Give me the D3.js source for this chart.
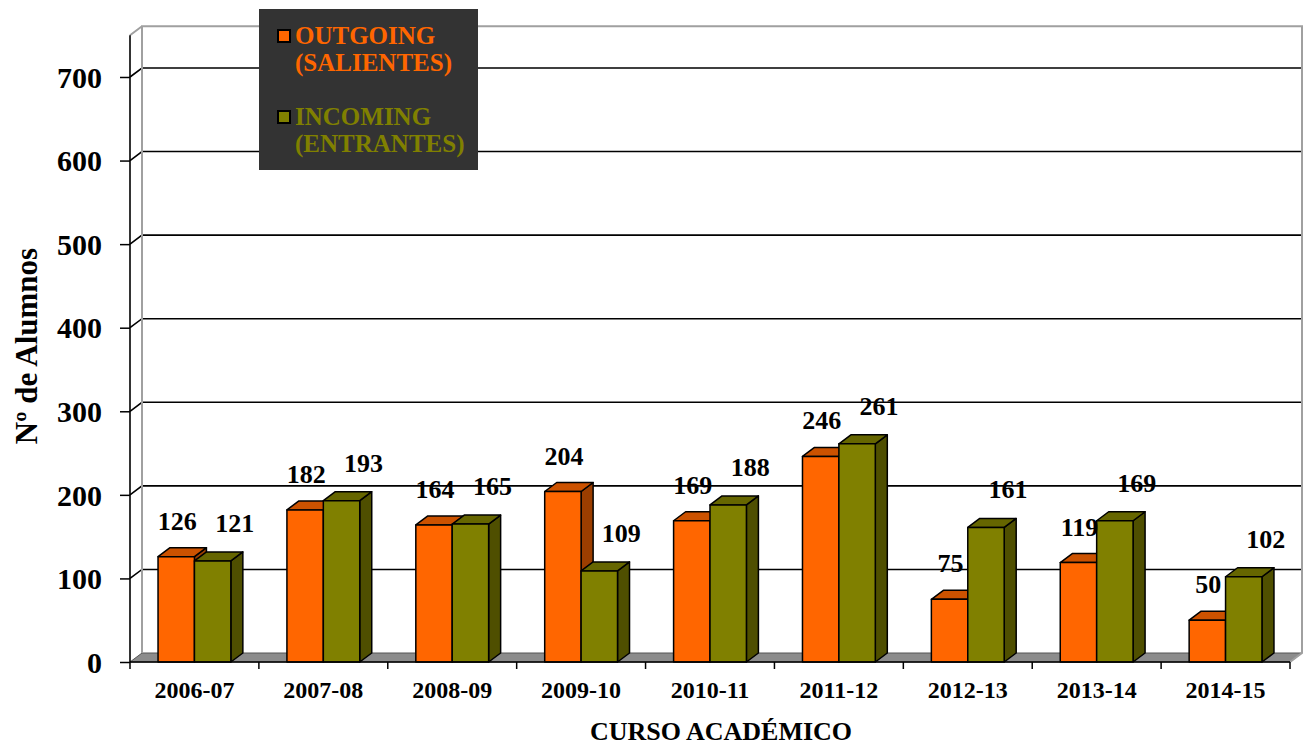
<!DOCTYPE html>
<html>
<head>
<meta charset="utf-8">
<script src="https://cdn.jsdelivr.net/npm/d3@7"></script>
<style>
  html, body { margin: 0; padding: 0; background: #fff; }
  svg { display: block; font-family: 'Liberation Serif', 'Times New Roman', serif; font-weight: bold; }
</style>
</head>
<body>
<svg id="chart" width="1306" height="746"></svg>
<script>
const categories = ['2006-07', '2007-08', '2008-09', '2009-10', '2010-11', '2011-12', '2012-13', '2013-14', '2014-15']
const outgoing = [126, 182, 164, 204, 169, 246, 75, 119, 50]
const incoming = [121, 193, 165, 109, 188, 261, 161, 169, 102]
const yTicks = [0, 100, 200, 300, 400, 500, 600, 700]
const seriesNames = ['OUTGOING|(SALIENTES)', 'INCOMING|(ENTRANTES)']

const svg = d3.select('#chart')

const left = 130, right = 1290, bottom = 662
const dx = 12, dy = -9

const x = d3.scaleBand().domain(categories).range([left, right])
const inner = d3.scaleBand().domain(['out', 'in']).range([0, x.bandwidth()]).paddingOuter(0.77)
const y = d3.scaleLinear().domain([0, 750]).range([bottom, 35.2])

const styles = {
  out: { front: '#ff6600', top: '#cc5200', side: '#9c3e00', text: '#ff6600' },
  in: { front: '#808000', top: '#666600', side: '#4f4f00', text: '#808000' }
}

// back wall
const yTop = y(750)
svg.append('rect')
  .attr('x', left + dx).attr('y', yTop + dy)
  .attr('width', right - left).attr('height', bottom - yTop)
  .attr('fill', '#fff')

// floor
svg.append('path')
  .attr('d', `M${left},${bottom}L${right},${bottom}L${right + dx},${bottom + dy}L${left + dx},${bottom + dy}Z`)
  .attr('fill', '#8c8c8c').attr('stroke', '#555').attr('stroke-width', 1)

// gridlines (back wall + diagonal to the front axis)
const grid = svg.append('g')
grid.selectAll('path')
  .data(yTicks.filter(d => d > 0))
  .enter().append('path')
  .attr('d', d => `M${left},${y(d)}L${left + dx},${y(d) + dy}L${right + dx},${y(d) + dy}`)
  .attr('fill', 'none').attr('stroke', '#000').attr('stroke-width', 1.6)

// wall edges (grey)
svg.append('path')
  .attr('d', `M${left + dx},${bottom + dy}L${left + dx},${yTop + dy}L${right + dx},${yTop + dy}L${right + dx},${bottom + dy}L${right},${bottom}
              M${left},${yTop}L${left + dx},${yTop + dy}`)
  .attr('fill', 'none').attr('stroke', '#a0a0a0').attr('stroke-width', 2)

// bars
function box(g, x0, w, v, s) {
  const y1 = y(v), x1 = x0 + w
  g.append('path')
    .attr('d', `M${x1},${y1}L${x1 + dx},${y1 + dy}L${x1 + dx},${bottom + dy}L${x1},${bottom}Z`)
    .attr('fill', s.side)
  g.append('path')
    .attr('d', `M${x0},${y1}L${x0 + dx},${y1 + dy}L${x1 + dx},${y1 + dy}L${x1},${y1}Z`)
    .attr('fill', s.top)
  g.append('rect')
    .attr('x', x0).attr('y', y1).attr('width', w).attr('height', bottom - y1)
    .attr('fill', s.front)
  g.selectAll('path, rect').attr('stroke', '#000').attr('stroke-width', 1.5).attr('stroke-linejoin', 'round')
}

const bars = svg.append('g')
categories.forEach((c, i) => {
  const g = bars.append('g')
  box(g, x(c) + inner('out'), inner.bandwidth(), outgoing[i], styles.out)
  box(g, x(c) + inner('in'), inner.bandwidth(), incoming[i], styles.in)
})

// value labels
const labels = svg.append('g').attr('font-size', 26).attr('text-anchor', 'middle').attr('fill', '#000')
categories.forEach((c, i) => {
  labels.append('text')
    .attr('x', x(c) + inner('out') + inner.bandwidth() / 2 + 1)
    .attr('y', y(outgoing[i]) - 27)
    .text(outgoing[i])
  labels.append('text')
    .attr('x', x(c) + inner('in') + inner.bandwidth() / 2 + 22)
    .attr('y', y(incoming[i]) - 29)
    .text(incoming[i])
})

// y axis
const yAxis = svg.append('g')
  .attr('transform', `translate(${left},0)`)
  .call(d3.axisLeft(y).tickValues(yTicks).tickSize(10).tickPadding(18))
yAxis.attr('font-family', null).attr('font-size', null)
yAxis.select('.domain').attr('d', `M0,${y(750)}V${bottom}`).attr('stroke', '#000').attr('stroke-width', 1.6)
yAxis.selectAll('.tick line').attr('stroke', '#000').attr('stroke-width', 1.5)
yAxis.selectAll('.tick text')
  .attr('font-size', 30).attr('fill', '#000').attr('dy', '0.34em')

// x axis
const xAxis = svg.append('g')
svg.append('line')
  .attr('x1', left).attr('x2', right).attr('y1', bottom).attr('y2', bottom)
  .attr('stroke', '#000').attr('stroke-width', 1.6)
xAxis.selectAll('line')
  .data(categories.map(c => x(c)).concat([right]))
  .enter().append('line')
  .attr('x1', d => d).attr('x2', d => d)
  .attr('y1', bottom).attr('y2', bottom + 7)
  .attr('stroke', '#000').attr('stroke-width', 1.5)
xAxis.selectAll('text')
  .data(categories)
  .enter().append('text')
  .attr('x', d => x(d) + x.bandwidth() / 2)
  .attr('y', 698)
  .attr('text-anchor', 'middle').attr('font-size', 24)
  .text(d => d)

// axis titles
svg.append('text')
  .attr('transform', 'translate(37,346) rotate(-90)')
  .attr('text-anchor', 'middle').attr('font-size', 31)
  .text('Nº de Alumnos')
svg.append('text')
  .attr('x', 721).attr('y', 740)
  .attr('text-anchor', 'middle').attr('font-size', 26)
  .text('CURSO ACADÉMICO')

// legend
const legend = svg.append('g')
legend.append('rect')
  .attr('x', 259).attr('y', 9).attr('width', 219).attr('height', 161)
  .attr('fill', '#333333')
const items = legend.selectAll('g.item')
  .data(seriesNames)
  .enter().append('g')
  .attr('class', 'item')
  .attr('transform', (d, i) => `translate(0, ${i * 81})`)
items.append('rect')
  .attr('x', 278).attr('y', 30).attr('width', 12).attr('height', 12)
  .attr('fill', (d, i) => i === 0 ? styles.out.front : styles.in.front)
  .attr('stroke', '#000').attr('stroke-width', 2)
items.each(function (d, i) {
  const color = i === 0 ? styles.out.text : styles.in.text
  d.split('|').forEach((line, j) => {
    d3.select(this).append('text')
      .attr('x', 295).attr('y', 44 + j * 27)
      .attr('font-size', 25).attr('fill', color)
      .text(line)
  })
})
</script>
</body>
</html>
